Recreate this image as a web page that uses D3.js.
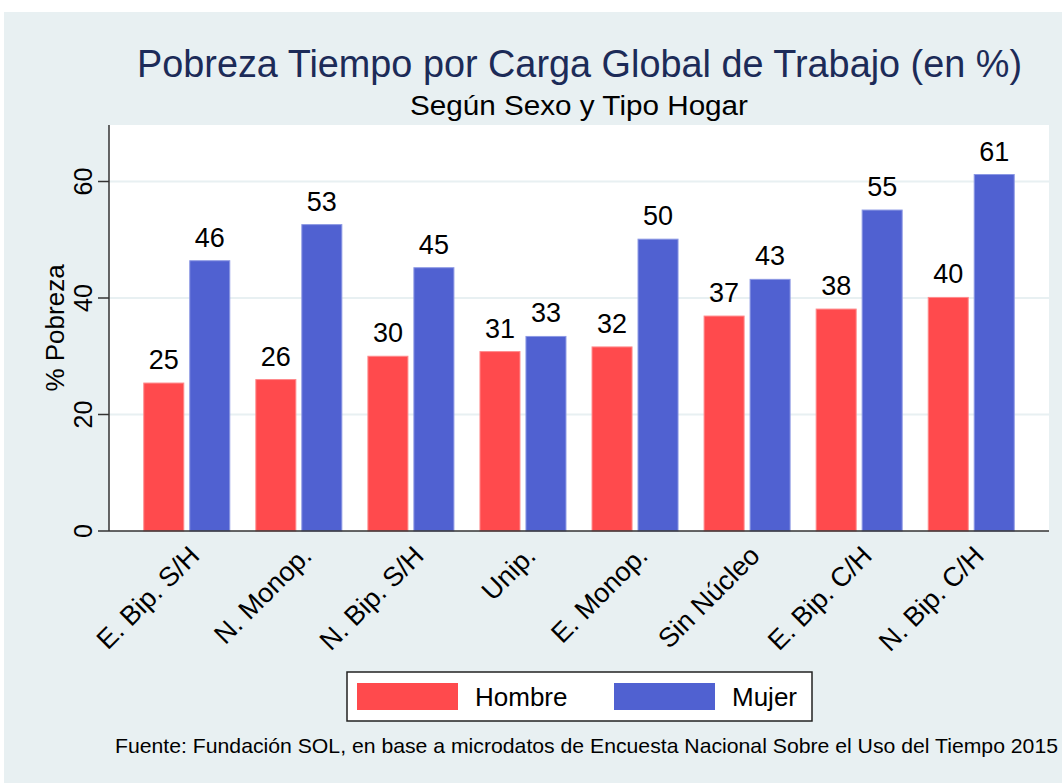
<!DOCTYPE html>
<html>
<head>
<meta charset="utf-8">
<script src="https://cdn.jsdelivr.net/npm/d3@7"></script>
<style>
  body { margin: 0; background: #fff; }
  text { font-family: "Liberation Sans", Arial, sans-serif; }
</style>
</head>
<body>
<script>
const width = 1062;
const height = 783;

// datos
const categories = ["E. Bip. S/H", "N. Monop.", "N. Bip. S/H", "Unip.", "E. Monop.", "Sin Núcleo", "E. Bip. C/H", "N. Bip. C/H"];
const series = ["Hombre", "Mujer"];
const hombre = [25.4, 26.0, 30.0, 30.8, 31.6, 36.9, 38.1, 40.1];
const mujer = [46.4, 52.6, 45.2, 33.4, 50.1, 43.2, 55.1, 61.2];
const yTicks = [0, 20, 40, 60];
const colors = ["#ff4a4d", "#5061d1"];

const margin = { top: 125, right: 13, bottom: 252, left: 109 };

const svg = d3.select("body")
    .append("svg")
    .attr("width", width)
    .attr("height", height);

// fondo
svg.append("rect")
    .attr("x", 4).attr("y", 12)
    .attr("width", width - 4).attr("height", height - 12)
    .attr("fill", "#e8f0f2");

const plotW = width - margin.left - margin.right;
const plotH = height - margin.top - margin.bottom;

svg.append("rect")
    .attr("x", margin.left).attr("y", margin.top)
    .attr("width", plotW).attr("height", plotH)
    .attr("fill", "#fff");

const x = d3.scalePoint()
    .domain(categories)
    .range([margin.left, margin.left + plotW])
    .padding(0.694);

const xSub = d3.scaleBand()
    .domain(series)
    .range([-43, 43])
    .paddingInner(0.13);

const y = d3.scaleLinear()
    .domain([0, 69.7])
    .range([margin.top + plotH, margin.top]);

// grilla
svg.append("g")
    .selectAll("line")
    .data(yTicks.filter(d => d > 0))
    .join("line")
    .attr("x1", margin.left).attr("x2", margin.left + plotW)
    .attr("y1", d => y(d)).attr("y2", d => y(d))
    .attr("stroke", "#e8f0f2")
    .attr("stroke-width", 2);

// barras
const rows = categories.map((c, i) => ({ cat: c, vals: [hombre[i], mujer[i]] }));

const groups = svg.append("g")
    .selectAll("g")
    .data(rows)
    .join("g")
    .attr("transform", d => `translate(${x(d.cat)},0)`);

groups.selectAll("rect")
    .data(d => d.vals.map((v, j) => ({ key: series[j], v: v, j: j })))
    .join("rect")
    .attr("x", d => xSub(d.key))
    .attr("width", xSub.bandwidth())
    .attr("y", d => y(d.v))
    .attr("height", d => y(0) - y(d.v))
    .attr("fill", d => colors[d.j])
    .attr("stroke", d => d.j === 0 ? "#ff8a8c" : "#8c98e4")
    .attr("stroke-width", 1);

groups.selectAll("text")
    .data(d => d.vals.map((v, j) => ({ key: series[j], v: v })))
    .join("text")
    .attr("x", d => xSub(d.key) + xSub.bandwidth() / 2)
    .attr("y", d => y(d.v) - 14)
    .attr("text-anchor", "middle")
    .attr("font-size", 27)
    .attr("fill", "#000")
    .text(d => Math.round(d.v));

// ejes
const yAxis = d3.axisLeft(y).tickValues(yTicks).tickSize(11).tickFormat(d3.format("d"));
const gy = svg.append("g")
    .attr("transform", `translate(${margin.left},0)`)
    .call(yAxis);
gy.select(".domain").attr("stroke", "#333").attr("stroke-width", 1.5)
    .attr("d", `M0,${margin.top}V${margin.top + plotH}`);
gy.selectAll(".tick line").attr("stroke", "#333").attr("stroke-width", 1.5);
gy.selectAll(".tick text")
    .attr("font-size", 25)
    .attr("fill", "#000")
    .attr("text-anchor", "middle")
    .attr("transform", d => `translate(-26,${y(d)}) rotate(-90)`)
    .attr("x", 0).attr("y", 0).attr("dy", "0.35em");
gy.selectAll(".tick").attr("transform", null);
gy.selectAll(".tick line").attr("transform", d => `translate(0,${y(d)})`);

const gx = svg.append("g")
    .attr("transform", `translate(0,${margin.top + plotH})`);
gx.append("line")
    .attr("x1", margin.left).attr("x2", margin.left + plotW)
    .attr("stroke", "#333").attr("stroke-width", 1.5);
gx.selectAll("text")
    .data(categories)
    .join("text")
    .attr("transform", d => `translate(${x(d) + 1},13) rotate(-45)`)
    .attr("text-anchor", "end")
    .attr("dy", "0.7em")
    .attr("font-size", 27)
    .attr("fill", "#000")
    .text(d => d);

// titulos
svg.append("text")
    .attr("x", 579.5).attr("y", 77)
    .attr("text-anchor", "middle")
    .attr("font-size", 38)
    .attr("fill", "#1c2b58")
    .attr("textLength", 885)
    .attr("lengthAdjust", "spacingAndGlyphs")
    .text("Pobreza Tiempo por Carga Global de Trabajo (en %)");

svg.append("text")
    .attr("x", 579).attr("y", 115)
    .attr("text-anchor", "middle")
    .attr("font-size", 27)
    .attr("fill", "#000")
    .attr("textLength", 338)
    .attr("lengthAdjust", "spacingAndGlyphs")
    .text("Según Sexo y Tipo Hogar");

svg.append("text")
    .attr("transform", `translate(64,${margin.top + plotH / 2}) rotate(-90)`)
    .attr("text-anchor", "middle")
    .attr("font-size", 26)
    .attr("fill", "#000")
    .text("% Pobreza");

// leyenda
const legend = svg.append("g");
legend.append("rect")
    .attr("x", 347).attr("y", 672)
    .attr("width", 465).attr("height", 49)
    .attr("fill", "#fff")
    .attr("stroke", "#222").attr("stroke-width", 1.5);

const legX = [357, 614];
const legTextX = [475, 732];
series.forEach((s, i) => {
    legend.append("rect")
        .attr("x", legX[i]).attr("y", 683)
        .attr("width", 101).attr("height", 27)
        .attr("fill", colors[i]);
    legend.append("text")
        .attr("x", legTextX[i]).attr("y", 706)
        .attr("font-size", 26)
        .attr("fill", "#000")
        .text(s);
});

// fuente
svg.append("text")
    .attr("x", 115).attr("y", 753)
    .attr("font-size", 21)
    .attr("fill", "#000")
    .attr("textLength", 943)
    .attr("lengthAdjust", "spacingAndGlyphs")
    .text("Fuente: Fundación SOL, en base a microdatos de Encuesta Nacional Sobre el Uso del Tiempo 2015");
</script>
</body>
</html>
